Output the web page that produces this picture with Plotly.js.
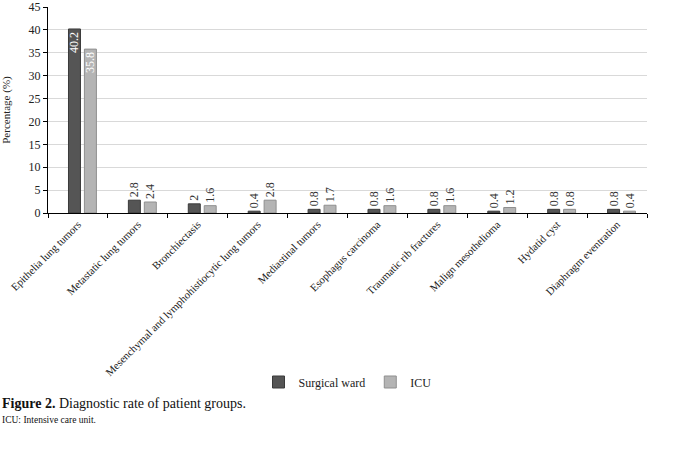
<!DOCTYPE html>
<html><head><meta charset="utf-8">
<script src="https://cdn.plot.ly/plotly-3.0.1.min.js"></script>
<style>html,body{margin:0;padding:0;background:#fff}#chart{width:676px;height:456px}</style>
</head><body><div id="chart"></div>
<script>
const categories = ["Epithelia lung tumors","Metastatic lung tumors","Bronchiectasis","Mesenchymal and lymphohistiocytic lung tumors","Mediastinal tumors","Esophagus carcinoma","Traumatic rib fractures","Malign mesothelioma","Hydatid cyst","Diaphragm eventration"];
const surgicalWard = [40.2, 2.8, 2, 0.4, 0.8, 0.8, 0.8, 0.4, 0.8, 0.8];
const icu = [35.8, 2.4, 1.6, 2.8, 1.7, 1.6, 1.6, 1.2, 0.8, 0.4];
const seriesNames = ["Surgical ward", "ICU"];

const F = "'Liberation Serif', 'Times New Roman', serif";
function bar(name, vals, fill, line, off) {
  return {
    type: 'bar', name: name, x: categories, y: vals,
    text: vals.map(v => String(v)),
    textposition: vals.map(v => v > 10 ? 'inside' : 'outside'),
    insidetextanchor: 'end', textangle: -90,
    insidetextfont: {family: F, size: 12, color: '#ffffff'},
    outsidetextfont: {family: F, size: 12, color: '#333333'},
    constraintext: 'none', cliponaxis: false,
    width: 0.2, offset: off,
    marker: {color: fill, line: {color: line, width: 1}},
    hoverinfo: 'none'
  };
}
const data = [bar(seriesNames[0], surgicalWard, '#555555', '#3a3a3a', -0.158),
              bar(seriesNames[1], icu, '#b4b4b4', '#8f8f8f', 0.108)];
const plotTop = 7, plotBottom = 213;
const ph = plotBottom - plotTop, pw = 599;
const layout = {
  width: 676, height: 456,
  margin: {l: 48, r: 29, t: plotTop, b: 456 - plotBottom},
  paper_bgcolor: '#fff', plot_bgcolor: '#fff',
  font: {family: F, size: 12, color: '#222'},
  barmode: 'group',
  showlegend: true,
  legend: {orientation: 'h', x: 0.5, xanchor: 'center', y: (plotBottom - 382) / ph, yanchor: 'middle',
           font: {family: F, size: 12, color: '#222'}, itemwidth: 30, traceorder: 'normal'},
  xaxis: {type: 'category', tickangle: -45, tickson: 'boundaries', ticks: 'outside', ticklen: 4,
          tickcolor: '#000', showline: true, linecolor: '#000', linewidth: 1, showgrid: false,
          tickfont: {family: F, size: 10.8, color: '#222'}, automargin: false},
  yaxis: {range: [0, 45], tickvals: [0,5,10,15,20,25,30,35,40,45], ticks: 'outside', ticklen: 4, tickcolor: '#000',
          ticklabeloverflow: 'allow',
          showline: true, linecolor: '#000', linewidth: 1, showgrid: true, gridcolor: '#d9d9d9',
          zeroline: false, tickfont: {family: F, size: 12, color: '#222'},
          title: {text: 'Percentage (%)', font: {family: F, size: 11, color: '#222'}, standoff: 15},
          automargin: false},
  annotations: [
    {xref: 'paper', yref: 'paper', x: -48 / pw, y: (plotBottom - 403) / ph, xanchor: 'left', yanchor: 'middle',
     text: '<b>Figure 2.</b> Diagnostic rate of patient groups.', showarrow: false,
     font: {family: F, size: 14, color: '#111'}},
    {xref: 'paper', yref: 'paper', x: -48 / pw, y: (plotBottom - 420) / ph, xanchor: 'left', yanchor: 'middle',
     text: 'ICU: Intensive care unit.', showarrow: false,
     font: {family: F, size: 9.5, color: '#111'}}
  ]
};
Plotly.newPlot('chart', data, layout, {staticPlot: true});
</script></body></html>
